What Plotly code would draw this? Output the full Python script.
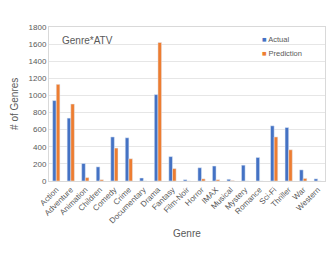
import plotly.graph_objects as go

genres = ["Action", "Adventure", "Animation", "Children", "Comedy", "Crime", "Documentary",
          "Drama", "Fantasy", "Film-Noir", "Horror", "IMAX", "Musical", "Mystery",
          "Romance", "Sci-Fi", "Thriller", "War", "Western"]
actual = [940, 735, 205, 165, 515, 505, 35, 1010, 285, 15, 155, 175, 20, 185, 275, 645, 625, 130, 25]
prediction = [1130, 900, 40, 15, 385, 260, 0, 1620, 145, 0, 25, 15, 5, 0, 0, 515, 365, 30, 0]

blue = "#4472C4"
orange = "#ED7D31"
fig = go.Figure()
fig.add_trace(go.Bar(x=genres, y=actual, name="Actual", marker_color=blue))
fig.add_trace(go.Bar(x=genres, y=prediction, name="Prediction", marker_color=orange))

font_color = "#595959"
fig.update_layout(
    width=332, height=265,
    margin=dict(l=49, r=7, t=27, b=84, autoexpand=False),
    paper_bgcolor="white", plot_bgcolor="white",
    barmode="group", bargap=0.5, bargroupgap=0.0,
    font=dict(family="Liberation Sans", size=8, color=font_color),
    showlegend=False,
    annotations=[
        dict(text="Genre*ATV", x=0.04, y=0.91, xref="paper", yref="paper",
             xanchor="left", yanchor="middle", showarrow=False,
             font=dict(size=10, color=font_color)),
        dict(text=f"<span style='color:{blue}'>■</span> Actual", x=0.765, y=0.916,
             xref="paper", yref="paper", xanchor="left", yanchor="middle", showarrow=False,
             font=dict(size=7.5, color=font_color)),
        dict(text=f"<span style='color:{orange}'>■</span> Prediction", x=0.765, y=0.831,
             xref="paper", yref="paper", xanchor="left", yanchor="middle", showarrow=False,
             font=dict(size=7.5, color=font_color)),
        dict(text="Genre", x=0.5, y=-0.338, xref="paper", yref="paper",
             xanchor="center", yanchor="middle", showarrow=False,
             font=dict(size=10, color=font_color)),
        dict(text="# of Genres", x=-0.127, y=0.5, xref="paper", yref="paper",
             xanchor="center", yanchor="middle", showarrow=False, textangle=-90,
             font=dict(size=10, color=font_color)),
    ],
)
fig.update_yaxes(range=[0, 1800], dtick=200, showgrid=True, gridcolor="#e6e6e6",
                 showline=True, linecolor="#d9d9d9", mirror=True, ticks="",
                 zeroline=False, automargin=False,
                 tickfont=dict(size=8, color=font_color))
fig.update_xaxes(showline=True, linecolor="#d9d9d9", mirror=True, tickangle=-45,
                 ticks="", automargin=False,
                 tickfont=dict(size=8, color=font_color))

fig.write_html("out.html", config={"displayModeBar": False},
               post_script="document.body.style.margin='0';document.body.style.overflow='hidden';")
